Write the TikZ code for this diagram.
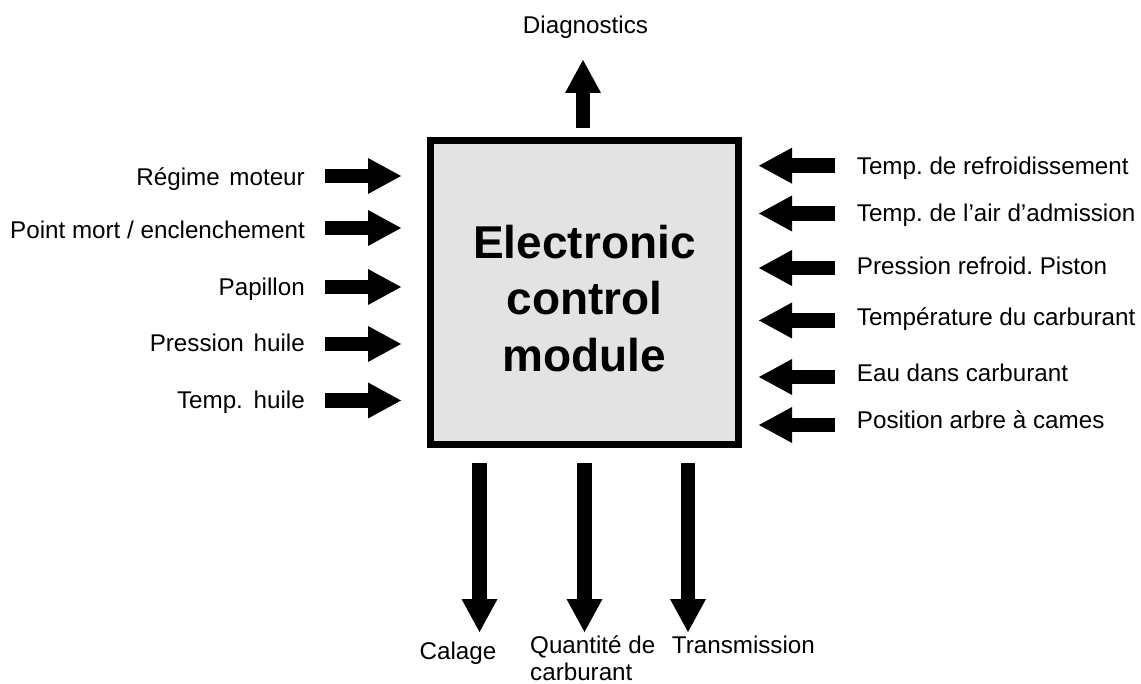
\documentclass[tikz,border=0pt]{standalone}
\usepackage{fontspec}
\setmainfont{Liberation Sans}
\usetikzlibrary{arrows.meta}
\frenchspacing
\begin{document}
\begin{tikzpicture}[x=1pt,y=-1pt,
  lbl/.style={inner sep=0pt, font=\fontsize{24.2}{28}\selectfont},
  big/.style={inner sep=0pt, anchor=base, font=\bfseries\fontsize{46}{57}\selectfont},
  blk/.style={line width=14.5pt, -{Triangle[width=36pt,length=33pt,line width=0pt]}},
  ecmbox/.style={draw, line width=7pt, fill=gray!22, minimum width=308pt, minimum height=304pt, inner sep=0pt}]
\useasboundingbox (0,0) rectangle (1141,684);

% central module
\node[ecmbox] (ecm) at (584.5,292.5) {};
\node[big] (t1) at (584.5,258.3) {Electronic};
\node[big] (t2) at (584.5,315) {control};
\node[big] (t3) at (584.5,372) {module};

% left inputs
\foreach \n/\y/\b/\t in {1/176/186/{Régime\hspace{3pt} moteur},
                          2/228/238.3/{Point mort / enclenchement},
                          3/287/295.7/{Papillon},
                          4/344/351.7/{Pression\hspace{3pt} huile},
                          5/400.5/408.3/{Temp.\hspace{4pt} huile}}{
  \node[lbl, anchor=base east] (L\n) at (305,\b) {\t};
  \coordinate (L\n a) at (325,\y);
  \coordinate (L\n b) at (401,\y);
  \draw[blk] (L\n a) -- (L\n b);
}

% right inputs
\foreach \n/\y/\b/\t in {1/165.7/174.8/{Temp. de refroidissement},
                          2/213.5/221.7/{Temp. de l’air d’admission},
                          3/268/275/{Pression refroid. Piston},
                          4/320.5/325.5/{Température du carburant},
                          5/377/381.5/{Eau dans carburant},
                          6/425/428.5/{Position arbre à cames}}{
  \node[lbl, anchor=base west] (R\n) at (856.7,\b) {\t};
  \coordinate (R\n a) at (835,\y);
  \coordinate (R\n b) at (759,\y);
  \draw[blk] (R\n a) -- (R\n b);
}

% top output
\node[lbl, anchor=base] (diag) at (585.5,33.3) {Diagnostics};
\coordinate (Da) at (583,128);
\coordinate (Db) at (583,60);
\draw[blk] (Da) -- (Db);

% bottom outputs
\coordinate (B1a) at (479.5,463); \coordinate (B1b) at (479.5,632);
\coordinate (B2a) at (584.5,463); \coordinate (B2b) at (584.5,632);
\coordinate (B3a) at (688,463);   \coordinate (B3b) at (688,632);
\draw[blk] (B1a) -- (B1b);
\draw[blk] (B2a) -- (B2b);
\draw[blk] (B3a) -- (B3b);
\node[lbl, anchor=base] (cal) at (458,659) {Calage};
\node[lbl, anchor=base west] (qte) at (530,653) {Quantité de};
\node[lbl, anchor=base west] (carb) at (530,680) {carburant};
\node[lbl, anchor=base west] (trans) at (671.7,653) {Transmission};
\end{tikzpicture}
\end{document}
